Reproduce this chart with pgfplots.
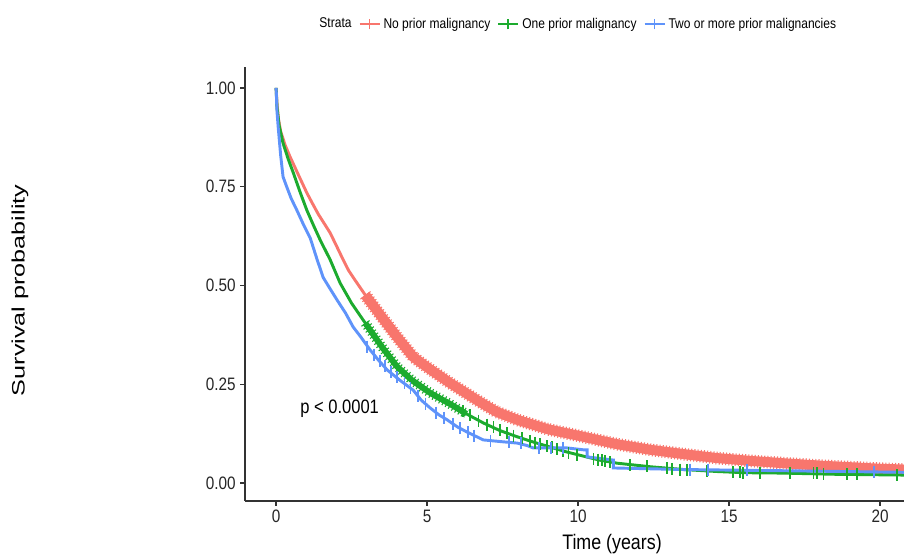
\documentclass[border=0pt]{standalone}
\usepackage{fontspec}
\setmainfont{Liberation Sans}[FakeStretch=0.85]
\newfontfamily\widefont{Liberation Sans}[FakeStretch=1.4]
\usepackage{pgfplots}
\usepackage{pgfplotstable}
\pgfplotsset{compat=1.18}

\definecolor{kmred}{HTML}{F8766D}
\definecolor{kmgreen}{HTML}{1CAB2E}
\definecolor{kmblue}{HTML}{5F93FA}

% survival curves
\pgfplotstableread{
t s
0 1.000
0.03 0.960
0.08 0.920
0.15 0.890
0.30 0.855
0.46 0.826
0.75 0.778
1.02 0.734
1.20 0.708
1.40 0.680
1.60 0.656
1.79 0.633
2.00 0.600
2.22 0.565
2.40 0.538
2.60 0.515
2.95 0.476
3.50 0.420
4.00 0.370
4.54 0.319
5.00 0.293
5.76 0.253
6.75 0.205
7.30 0.180
7.98 0.160
9.00 0.136
10.17 0.117
11.30 0.098
12.40 0.084
13.50 0.073
14.60 0.063
15.70 0.056
16.80 0.050
18.00 0.044
19.00 0.040
20.00 0.036
20.80 0.034
}\redtab

\pgfplotstableread{
t s
0 1.000
0.03 0.950
0.10 0.905
0.23 0.860
0.40 0.820
0.57 0.785
0.80 0.735
1.02 0.690
1.25 0.650
1.46 0.615
1.79 0.565
2.12 0.506
2.50 0.455
2.95 0.405
3.50 0.345
4.00 0.295
4.50 0.260
5.10 0.228
5.76 0.200
6.30 0.175
6.86 0.152
7.40 0.133
7.98 0.117
8.50 0.104
9.07 0.091
9.60 0.079
10.17 0.068
10.70 0.058
11.30 0.050
12.40 0.041
13.50 0.034
14.60 0.029
15.50 0.026
16.80 0.025
18.50 0.022
20.80 0.020
}\greentab

\pgfplotstableread{
t s
0 1.000
0.03 0.940
0.07 0.900
0.15 0.830
0.23 0.775
0.35 0.750
0.50 0.720
0.69 0.690
0.90 0.655
1.13 0.620
1.36 0.565
1.56 0.520
1.80 0.490
2.02 0.463
2.30 0.430
2.55 0.395
2.80 0.370
3.11 0.337
3.40 0.310
3.68 0.286
4.10 0.260
4.54 0.235
4.80 0.210
5.10 0.190
5.40 0.172
5.66 0.160
6.00 0.142
6.32 0.129
6.86 0.109
7.40 0.105
7.98 0.101
8.30 0.095
8.50 0.089
9.60 0.089
10.17 0.084
10.30 0.084
10.30 0.066
11.17 0.058
11.17 0.038
13.50 0.034
16.80 0.031
20.80 0.027
}\bluetab

% censoring marks
\pgfplotstableread{
t s
6.20 0.182
6.42 0.172
6.70 0.158
6.98 0.148
7.20 0.141
7.42 0.133
7.64 0.126
7.86 0.120
8.13 0.113
8.41 0.106
8.58 0.102
8.74 0.098
8.96 0.093
9.13 0.090
9.29 0.086
9.51 0.081
9.68 0.077
9.96 0.071
10.51 0.061
10.67 0.059
10.78 0.057
10.89 0.055
11.06 0.053
11.72 0.046
12.27 0.042
12.94 0.037
13.10 0.036
13.38 0.034
13.60 0.033
14.26 0.030
15.14 0.027
15.36 0.027
15.47 0.026
16.03 0.026
17.02 0.025
17.79 0.024
17.90 0.024
18.12 0.023
18.90 0.022
19.23 0.022
20.55 0.020
}\greencens

\pgfplotstableread{
t s
3.00 0.345
3.25 0.325
3.45 0.310
3.60 0.295
3.80 0.280
4.00 0.268
4.25 0.252
4.45 0.240
4.70 0.220
4.95 0.200
5.30 0.178
5.55 0.165
5.85 0.150
6.10 0.138
6.35 0.128
6.55 0.120
7.10 0.107
7.70 0.103
8.10 0.100
8.70 0.089
9.10 0.089
9.50 0.089
13.70 0.034
14.30 0.033
15.60 0.032
19.80 0.028
}\bluecens

\begin{document}
\begin{tikzpicture}
\begin{axis}[
  scale only axis,
  width=494.25pt, height=325.5pt,
  at={(183.75pt,40.5pt)}, anchor=south west,
  xmin=-1.03, xmax=20.79,
  ymin=-0.0456, ymax=1.053,
  axis x line*=bottom, axis y line*=left,
  axis line style={black!80, line width=1pt},
  tick align=outside, major tick length=3.5pt,
  tick style={black!80, line width=1pt},
  xtick={0,5,10,15,20}, xticklabels={0,5,10,15,20},
  ytick={0,0.25,0.5,0.75,1}, yticklabels={0.00,0.25,0.50,0.75,1.00},
  ticklabel style={font=\fontsize{13.5pt}{16pt}\selectfont, text=black!85},
  legend columns=-1,
  legend style={draw=none, fill=none, at={(0.505,1.099)}, anchor=center,
    font=\fontsize{10.6pt}{13pt}\selectfont,
    /tikz/every even column/.append style={column sep=3pt}},
  legend image code/.code={
    \draw[#1, line width=2pt] (0pt,0pt) -- (15pt,0pt);
    \draw[#1, line width=1.3pt] (7.5pt,-4pt) -- (7.5pt,4pt);},
]
\addlegendimage{empty legend}
\addlegendentry{Strata}

% red: dense censoring band
\addplot[kmred, line width=7.5pt, restrict x to domain=2.95:21, forget plot] table {\redtab};
\addplot[kmred, line width=9.5pt, dash pattern=on 0.8pt off 1.6pt, restrict x to domain=2.95:21, forget plot] table {\redtab};
\addplot[kmred, line width=2.2pt] table {\redtab};
\addlegendentry{No prior malignancy}

% green
\addplot[kmgreen, line width=4.5pt, restrict x to domain=2.95:6.3, forget plot] table {\greentab};
\addplot[kmgreen, line width=7.5pt, dash pattern=on 0.8pt off 2pt, restrict x to domain=2.95:6.3, forget plot] table {\greentab};
\addplot[kmgreen, line width=2.2pt] table {\greentab};
\addlegendentry{One prior malignancy}

% blue
\addplot[kmblue, line width=2.2pt] table {\bluetab};
\addlegendentry{Two or more prior malignancies}

\addplot[kmgreen, only marks, mark=|, mark size=4.5pt, mark options={line width=1.3pt}, forget plot] table {\greencens};
\addplot[kmblue, only marks, mark=|, mark size=4.5pt, mark options={line width=1.3pt}, forget plot] table {\bluecens};
\end{axis}

\node[anchor=base west, inner sep=0pt, font=\fontsize{14.6pt}{17pt}\selectfont] at (225pt,105.75pt) {p < 0.0001};
\node[anchor=base, inner sep=0pt, font=\fontsize{15.75pt}{18pt}\selectfont] at (459pt,4pt) {Time (years)};
\node[rotate=90, inner sep=0pt, font=\widefont\fontsize{13.5pt}{16pt}\selectfont] at (15pt,198.4pt) {Survival probability};

\pgfresetboundingbox
\useasboundingbox (0,0) rectangle (678pt,416.25pt);
\end{tikzpicture}
\end{document}
